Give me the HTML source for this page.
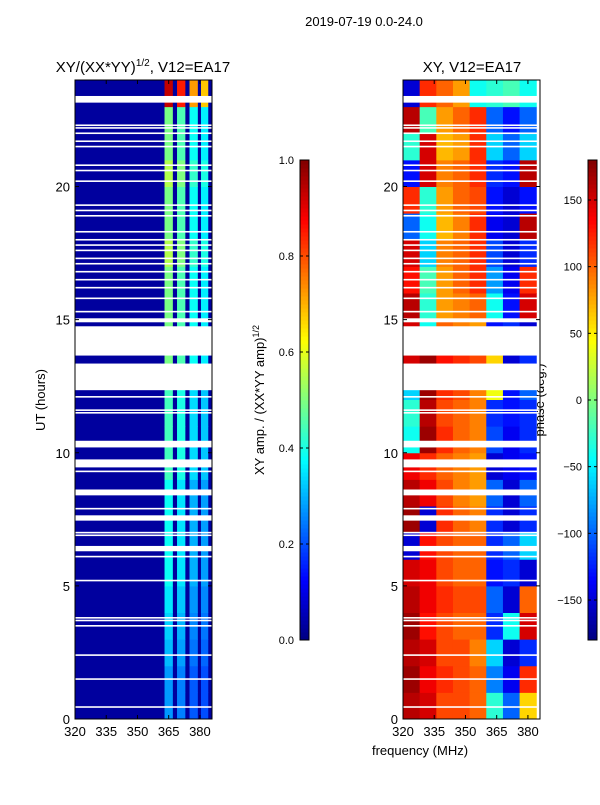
<!DOCTYPE html>
<html><head><meta charset="utf-8"><style>
body{margin:0;background:#fff;font-family:"Liberation Sans",sans-serif}
svg text{font-family:"Liberation Sans",sans-serif}
</style></head><body>
<svg id="c" width="600" height="800" xmlns="http://www.w3.org/2000/svg">
<text x="364" y="26" font-size="13" text-anchor="middle">2019-07-19 0.0-24.0</text>
<text x="143" y="72" font-size="15" text-anchor="middle">XY/(XX*YY)<tspan font-size="10" dy="-6">1/2</tspan><tspan dy="6">, V12=EA17</tspan></text>
<text x="472" y="72" font-size="15" text-anchor="middle">XY, V12=EA17</text>
<text transform="translate(45,400) rotate(-90)" font-size="13" text-anchor="middle">UT (hours)</text>
<text x="420" y="755" font-size="13" text-anchor="middle">frequency (MHz)</text>
<text transform="translate(264,400) rotate(-90)" font-size="13" text-anchor="middle">XY amp. / (XX*YY amp)<tspan font-size="9" dy="-5">1/2</tspan></text>
<text transform="translate(544,400) rotate(-90)" font-size="13" text-anchor="middle">phase (deg.)</text>
<g id="L"></g><g id="R"></g><g id="CB"></g>
</svg>
<script>
const hours=[0,1,2,3,4,5,6,7,8,9,10,11,12,13,14,15,16,17,18,19,20,21,22,23];
const bandAmp=[0.25,0.25,0.28,0.3,0.32,0.35,0.35,0.35,0.35,0.4,0.4,0.4,0.4,0.45,0.45,0.45,0.45,0.5,0.45,0.45,0.5,0.45,0.45,0.85];
const bandsMHz=[[363,367],[369,373],[375,379],[380.5,384]];
const bandScale=[1.1,1.0,0.85,0.8];
const bgAmp=0.03;
const freqCols=[320,328,336,344,352,360,368,376,384];
const phase=[
[160,150,110,110,100,-30,-100,60],[170,140,120,110,100,-90,-140,120],[160,150,110,110,90,-60,-150,-120],
[170,130,110,100,100,-120,-40,150],[160,140,120,110,110,-100,-150,100],[150,140,110,100,100,-130,-120,-150],
[-150,130,110,100,100,-120,-100,-60],[170,-150,120,100,90,-120,-150,-120],[160,140,110,90,80,-100,-150,-100],
[140,120,100,90,80,-150,-140,-130],[-40,170,120,100,90,-110,-140,-120],[-30,160,110,100,90,-120,-130,-120],
[-60,170,120,110,90,40,-130,-100],[150,170,130,120,110,60,-150,-120],[150,-40,100,90,80,-130,-120,-150],
[160,-30,80,90,100,-40,-130,150],[130,-20,80,100,120,-80,-140,120],[150,-60,90,100,120,-110,-150,-120],
[-100,-40,70,90,120,-140,-150,160],[120,-30,80,100,110,-130,-150,-130],[-130,150,90,100,120,-120,-130,160],
[-30,150,70,80,120,-60,-100,-60],[160,-20,80,100,120,-100,-130,-100],[-150,120,100,80,-40,-30,-20,-40]];
const gaps=[[23.15,23.4],[14.9,15.05],[13.65,14.75],[12.35,13.35],[10.2,10.45],[9.45,9.75],[8.4,8.62],[7.45,7.65],[6.3,6.5]];
const thinLines=[0.45,1.5,2.4,3.5,3.7,3.8,5.2,6.1,6.9,7.0,7.9,9.3,11.5,11.6,12.1,15.3,15.8,16.2,16.5,16.8,17.1,17.3,17.6,17.8,18.0,18.3,18.9,19.1,19.3,20.2,20.6,20.8,21.5,21.7,22.0,22.2,22.3];
const xTicks=[320,335,350,365,380];
const yTicks=[0,5,10,15,20];
const ampTicks=[0,0.2,0.4,0.6,0.8,1.0];
const phTicks=[-150,-100,-50,0,50,100,150];

const NS="http://www.w3.org/2000/svg";
function jet(v){v=Math.max(0,Math.min(1,v));
 const r=Math.max(0,Math.min(1,1.5-Math.abs(4*v-3))),g=Math.max(0,Math.min(1,1.5-Math.abs(4*v-2))),b=Math.max(0,Math.min(1,1.5-Math.abs(4*v-1)));
 return `rgb(${Math.round(r*255)},${Math.round(g*255)},${Math.round(b*255)})`;}
function el(p,t,a){const e=document.createElementNS(NS,t);for(const k in a)e.setAttribute(k,a[k]);p.appendChild(e);return e;}
const T=80,B=719,W=137,F0=320,F1=385.8;
const yS=h=>B-(h/24)*(B-T);
function panel(g,x0,right){
 const xS=f=>x0+(f-F0)/(F1-F0)*W;
 if(!right){
  const bg=el(g,'rect',{x:x0,y:T,width:W,height:B-T,fill:jet(bgAmp)});
  
  hours.forEach((h,i)=>{bandsMHz.forEach((bd,j)=>{
   const r=el(g,'rect',{x:xS(bd[0]),y:yS(h+1),width:xS(bd[1])-xS(bd[0]),height:yS(h)-yS(h+1)+0.5,fill:jet(bandAmp[i]*bandScale[j])});
   });});
 }else{
  hours.forEach((h,i)=>{phase[i].forEach((p,j)=>{
   const r=el(g,'rect',{x:xS(freqCols[j]),y:yS(h+1),width:xS(freqCols[j+1])-xS(freqCols[j])+0.5,height:yS(h)-yS(h+1)+0.5,fill:jet((p+180)/360)});
   });});
 }
 gaps.forEach(gp=>{const r=el(g,'rect',{x:x0,y:yS(gp[1]),width:W,height:yS(gp[0])-yS(gp[1]),fill:'#fff'});
  });
 thinLines.forEach(h=>{const r=el(g,'rect',{x:x0,y:yS(h)-0.8,width:W,height:1.6,fill:'#fff'});
  });
 const fr=el(g,'rect',{x:x0,y:T,width:W,height:B-T,fill:'none',stroke:'#000','stroke-width':1});
 
 xTicks.forEach(f=>{const x=xS(f);
  el(g,'line',{x1:x,x2:x,y1:B,y2:B-4,stroke:'#000'});el(g,'line',{x1:x,x2:x,y1:T,y2:T+4,stroke:'#000'});
  const t=el(g,'text',{x:x,y:B+17,'font-size':13,'text-anchor':'middle'});t.textContent=f;
  });
 yTicks.forEach(h=>{const y=yS(h);
  el(g,'line',{x1:x0,x2:x0+4,y1:y,y2:y,stroke:'#000'});el(g,'line',{x1:x0+W,x2:x0+W-4,y1:y,y2:y,stroke:'#000'});
  const t=el(g,'text',{x:x0-5,y:y+5,'font-size':13,'text-anchor':'end'});t.textContent=h;
  });
}
panel(document.getElementById('L'),75,false);
panel(document.getElementById('R'),403,true);
const cb=document.getElementById('CB');
function colorbar(x,lo,hi,ticks,name){
 const cT=160,cB=640,n=120;
 for(let i=0;i<n;i++){const v=i/n;
  const r=el(cb,'rect',{x:x,y:cB-(i+1)*(cB-cT)/n,width:9,height:(cB-cT)/n+0.5,fill:jet(v+0.5/n)});
  }
 const f=el(cb,'rect',{x:x,y:cT,width:9,height:cB-cT,fill:'none',stroke:'#000'});
 
 ticks.forEach(tv=>{const y=cB-(tv-lo)/(hi-lo)*(cB-cT);
  el(cb,'line',{x1:x,x2:x+3,y1:y,y2:y,stroke:'#000'});el(cb,'line',{x1:x+9,x2:x+6,y1:y,y2:y,stroke:'#000'});
  const t=el(cb,'text',{x:x-6,y:y+4,'font-size':11,'text-anchor':'end'});
  t.textContent=name==='amp-colorbar'?tv.toFixed(1):(tv<0?'\u2212'+(-tv):tv);
  });
}
colorbar(300,0,1,ampTicks,'amp-colorbar');
colorbar(588,-180,180,phTicks,'phase-colorbar');
</script>
</body></html>
